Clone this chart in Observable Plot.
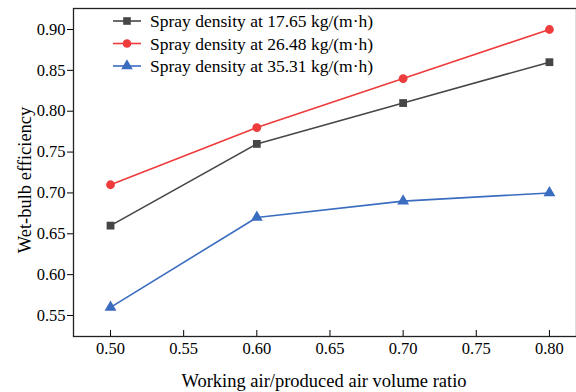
<!DOCTYPE html>
<html>
<head>
<meta charset="utf-8">
<script src="https://cdn.jsdelivr.net/npm/d3@7"></script>
<script src="https://cdn.jsdelivr.net/npm/@observablehq/plot@0.6"></script>
<style>
  html, body { margin: 0; padding: 0; background: #fff; }
  #chart svg { display: block; }
</style>
</head>
<body>
<div id="chart"></div>
<script>
const ratios = [0.50, 0.60, 0.70, 0.80];
const seriesNames = [
  "Spray density at 17.65 kg/(m\u00b7h)",
  "Spray density at 26.48 kg/(m\u00b7h)",
  "Spray density at 35.31 kg/(m\u00b7h)"
];
const values1765 = [0.66, 0.76, 0.81, 0.86];
const values2648 = [0.71, 0.78, 0.84, 0.90];
const values3531 = [0.56, 0.67, 0.69, 0.70];
const seriesColors = ["#464646", "#ee3b3b", "#3a6cc0"];
const seriesSymbols = ["square", "circle", "triangle"];
const xTicks = [0.50, 0.55, 0.60, 0.65, 0.70, 0.75, 0.80];
const yTicks = [0.55, 0.60, 0.65, 0.70, 0.75, 0.80, 0.85, 0.90];

const allValues = [values1765, values2648, values3531];
const data = [];
allValues.forEach((vals, i) => {
  vals.forEach((v, j) => data.push({series: seriesNames[i], x: ratios[j], y: v}));
});

const font = "Liberation Serif, Times New Roman, serif";

const plot = Plot.plot({
  width: 576,
  height: 392,
  marginLeft: 73,
  marginRight: 0,
  marginTop: 8,
  marginBottom: 56,
  style: {fontFamily: font, fontSize: "16px", color: "#000", background: "#fff"},
  x: {domain: [0.4747, 0.8185], ticks: xTicks, tickFormat: d3.format(".2f")},
  y: {domain: [0.5243, 0.9257], ticks: yTicks, tickFormat: d3.format(".2f")},
  color: {domain: seriesNames, range: seriesColors},
  symbol: {domain: seriesNames, range: seriesSymbols},
  marks: [
    Plot.axisX({ticks: xTicks, tickFormat: d3.format(".2f"), tickSize: -6, tickPadding: 12, label: null, fontSize: 16.5, fontVariant: "normal"}),
    Plot.axisY({ticks: yTicks, tickFormat: d3.format(".2f"), tickSize: 6, tickPadding: 2, label: null, fontSize: 16.5, fontVariant: "normal"}),
    Plot.frame({stroke: "#222", strokeWidth: 1.3}),
    Plot.line(data, {x: "x", y: "y", z: "series", stroke: "series", strokeWidth: 1.6}),
    Plot.dot(data, {x: "x", y: "y", symbol: "series", fill: "series", stroke: "none", r: 4.4})
  ]
});

const svg = d3.select(plot);
svg.selectAll("text").style("font-family", font).style("font-variant", "normal");
// axis titles
svg.append("text")
  .attr("x", 324).attr("y", 387)
  .attr("text-anchor", "middle")
  .style("font-family", font).style("font-size", "18.5px").attr("fill", "#000")
  .text("Working air/produced air volume ratio");
svg.append("text")
  .attr("transform", "translate(25,180) rotate(-90)")
  .attr("text-anchor", "middle")
  .attr("dy", "0.35em")
  .style("font-family", font).style("font-size", "18.5px").attr("fill", "#000")
  .text("Wet-bulb efficiency");

// legend
const lg = svg.append("g");
const symGen = d3.symbol().size(58);
const d3sym = {square: d3.symbolSquare, circle: d3.symbolCircle, triangle: d3.symbolTriangle};
seriesNames.forEach((name, i) => {
  const y = 21 + i * 22.5;
  lg.append("line").attr("x1", 113).attr("x2", 141).attr("y1", y).attr("y2", y)
    .attr("stroke", seriesColors[i]).attr("stroke-width", 1.6);
  lg.append("path").attr("transform", `translate(127,${y})`)
    .attr("d", symGen.type(d3sym[seriesSymbols[i]])()).attr("fill", seriesColors[i]);
  lg.append("text").attr("x", 150).attr("y", y).attr("dy", "0.35em")
    .attr("text-anchor", "start")
    .style("font-family", font).style("font-size", "17.5px").attr("fill", "#000")
    .text(name);
});

document.getElementById("chart").appendChild(plot);
</script>
</body>
</html>
